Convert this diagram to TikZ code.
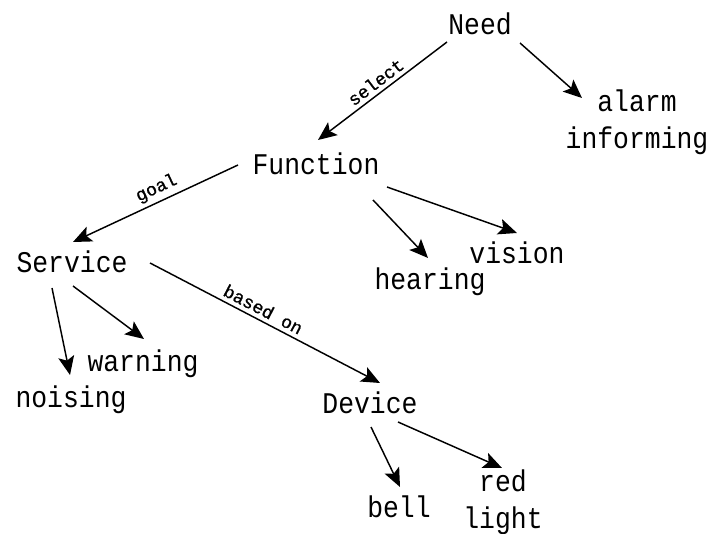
\documentclass[tikz,border=0pt]{standalone}
\usepackage{fontspec}
\usetikzlibrary{arrows.meta}
\newfontfamily\diagmono[FakeStretch=0.88]{Liberation Mono}
\newfontfamily\labmono[FakeBold=1]{Liberation Mono}
\begin{document}
\begin{tikzpicture}[x=0.75pt,y=-0.75pt,
  term/.style={inner sep=0pt,anchor=base,font=\diagmono\fontsize{22.5}{27.75}\selectfont},
  conn/.style={line width=1.1pt,-{Stealth[length=14pt,width=12pt,inset=3pt]}},
  edgelab/.style={sloped,above=3pt,inner sep=0pt,font=\labmono\fontsize{13.5}{15}\selectfont}]
\useasboundingbox (0,0) rectangle (710,534);
\fill[white] (0,0) rectangle (710,534);
\node[term] (need) at (480,35) {Need};
\node[term,anchor=center,align=center] (alarm) at (637,122) {alarm\\informing};
\node[term] (function) at (316,175) {Function};
\node[term] (service) at (72,273) {Service};
\node[term] (hearing) at (430,290) {hearing};
\node[term] (vision) at (517,264) {vision};
\node[term] (warning) at (143,372) {warning};
\node[term] (noising) at (71,407) {noising};
\node[term] (device) at (370,413) {Device};
\node[term] (bell) at (399,517) {bell};
\node[term,anchor=center,align=center] (redlight) at (503,502) {red\\light};

\draw[conn] ([shift={(-33,7)}]need.base) -- node[edgelab,pos=0.5]{select} ([shift={(2,-35)}]function.base);
\draw[conn] ([shift={(40,8)}]need.base) -- ([shift={(-55,-24)}]alarm.center);
\draw[conn] ([shift={(-78,-10)}]function.base) -- node[edgelab,pos=0.46]{goal} ([shift={(1,-31)}]service.base);
\draw[conn] ([shift={(57,25)}]function.base) -- ([shift={(-2,-32)}]hearing.base);
\draw[conn] ([shift={(71,12)}]function.base) -- ([shift={(0,-31)}]vision.base);
\draw[conn] ([shift={(1,13)}]service.base) -- ([shift={(1,-33)}]warning.base);
\draw[conn] ([shift={(-20,15)}]service.base) -- ([shift={(-1,-32)}]noising.base);
\draw[conn] ([shift={(78,-10)}]service.base) -- node[edgelab,pos=0.47]{based on} ([shift={(10,-30)}]device.base);
\draw[conn] ([shift={(1,14)}]device.base) -- ([shift={(1,-30)}]bell.base);
\draw[conn] ([shift={(28,9)}]device.base) -- ([shift={(-1,-34)}]redlight.center);
\end{tikzpicture}
\end{document}
